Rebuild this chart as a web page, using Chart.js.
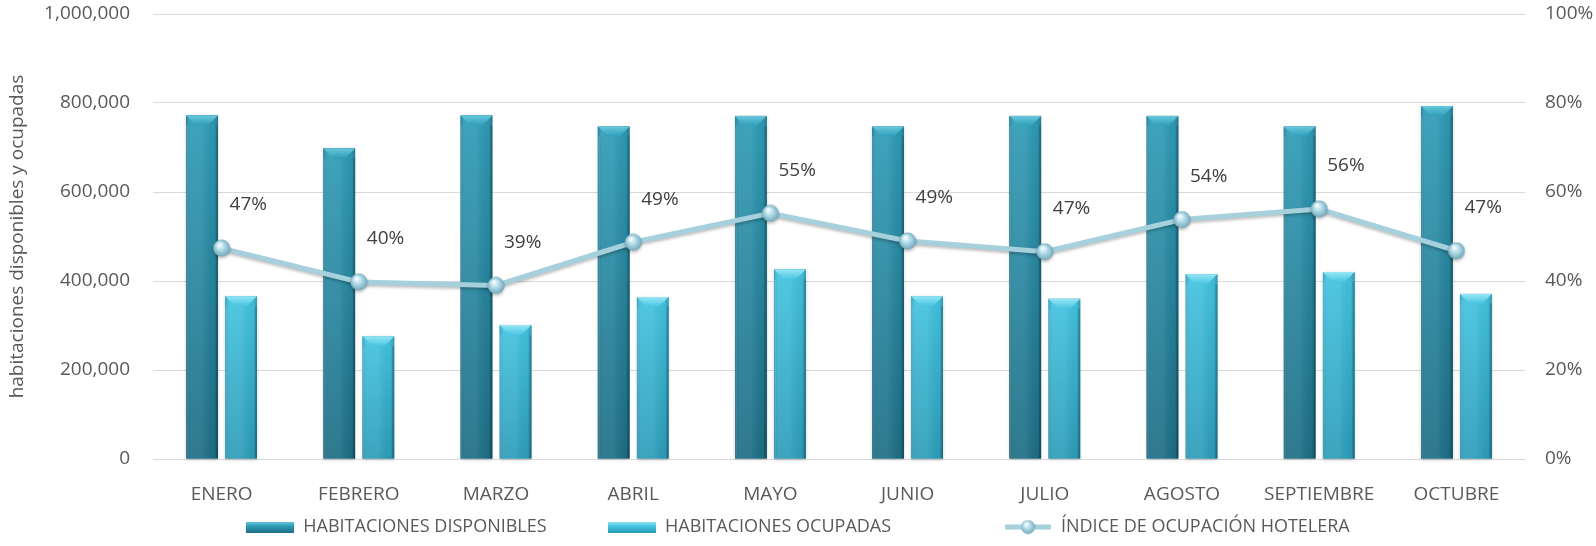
<!DOCTYPE html>
<html>
<head>
<meta charset="utf-8">
<script src="https://cdn.jsdelivr.net/npm/chart.js@4.4.1/dist/chart.umd.min.js"></script>
<style>
  body { margin: 0; background: #fff; }
  #wrap { width: 1596px; height: 546px; position: relative; }
</style>
</head>
<body>
<div id="wrap"><canvas id="ocupacion"></canvas></div>
<script>
// datos
var meses = ['ENERO', 'FEBRERO', 'MARZO', 'ABRIL', 'MAYO', 'JUNIO', 'JULIO', 'AGOSTO', 'SEPTIEMBRE', 'OCTUBRE'];
var disponibles = [772000, 698000, 772000, 747000, 771000, 747000, 771000, 771000, 747000, 793000];
var ocupadas = [366000, 276000, 301000, 364000, 426000, 366000, 360000, 415000, 420000, 371000];
var indice = [0.474, 0.398, 0.39, 0.487, 0.552, 0.49, 0.466, 0.538, 0.562, 0.468];
var ticksIzq = [0, 200000, 400000, 600000, 800000, 1000000];
var ticksDer = [0, 0.2, 0.4, 0.6, 0.8, 1];

var FONT = '"Open Sans", "Noto Sans", sans-serif';
var GRIS = '#595959';

var colores = {
  disp: { top: '#2f9bb6', bottom: '#1e6e85', bevel: '#66c8dd', bevelDark: '#2f9db8' },
  ocup: { top: '#43c3e0', bottom: '#2d9cb8', bevel: '#98e6f5', bevelDark: '#46c4e0' }
};

// esfera para los puntos de la linea
function makeSphere(d) {
  var c = document.createElement('canvas');
  c.width = d; c.height = d;
  var g = c.getContext('2d');
  var r = d / 2;
  var rg = g.createRadialGradient(r * 0.75, r * 0.6, 1, r, r, r);
  rg.addColorStop(0, '#f2fbfe');
  rg.addColorStop(0.45, '#acd8e6');
  rg.addColorStop(0.85, '#80b3c4');
  rg.addColorStop(1, '#6a9aab');
  g.fillStyle = rg;
  g.beginPath(); g.arc(r, r, r - 0.5, 0, Math.PI * 2); g.fill();
  return c;
}

function drawBevelBar(ctx, l, top, w, h, col) {
  var r = l + w;
  var g = ctx.createLinearGradient(0, top, 0, top + h);
  g.addColorStop(0, col.top);
  g.addColorStop(1, col.bottom);
  ctx.fillStyle = g;
  ctx.fillRect(l, top, w, h);
  var hg = ctx.createLinearGradient(l, 0, r, 0);
  hg.addColorStop(0, 'rgba(0,0,0,0.15)');
  hg.addColorStop(0.12, 'rgba(255,255,255,0.08)');
  hg.addColorStop(0.5, 'rgba(255,255,255,0.08)');
  hg.addColorStop(0.88, 'rgba(0,0,0,0.03)');
  hg.addColorStop(1, 'rgba(0,0,0,0.22)');
  ctx.fillStyle = hg;
  ctx.fillRect(l, top, w, h);
  var b = Math.min(10, h / 2, w / 3);
  var s = 2;
  // tapa superior biselada
  var tg = ctx.createLinearGradient(0, top, 0, top + b);
  tg.addColorStop(0, col.bevel);
  tg.addColorStop(1, col.bevelDark);
  ctx.fillStyle = tg;
  ctx.beginPath();
  ctx.moveTo(l, top); ctx.lineTo(r, top); ctx.lineTo(r - b, top + b); ctx.lineTo(l + b, top + b);
  ctx.closePath(); ctx.fill();
  // bordes laterales
  ctx.fillStyle = 'rgba(255,255,255,0.12)';
  ctx.fillRect(l, top + b, s, h - b);
  ctx.fillStyle = 'rgba(0,0,0,0.15)';
  ctx.fillRect(r - s, top + b, s, h - b);
}

function legendBox(col) {
  var c = document.createElement('canvas');
  c.width = 48; c.height = 11;
  var g = c.getContext('2d');
  var vg = g.createLinearGradient(0, 0, 0, 11);
  vg.addColorStop(0, col.bevel);
  vg.addColorStop(0.45, col.top);
  vg.addColorStop(1, col.bottom);
  g.fillStyle = vg;
  g.fillRect(0, 0, 48, 11);
  return c;
}

function legendLine() {
  var c = document.createElement('canvas');
  c.width = 46; c.height = 16;
  var g = c.getContext('2d');
  g.strokeStyle = '#a6d0dc';
  g.lineWidth = 5;
  g.beginPath(); g.moveTo(0, 8); g.lineTo(46, 8); g.stroke();
  g.drawImage(makeSphere(15), 15.5, 0.5);
  return c;
}

var barrasPlugin = {
  id: 'barras',
  afterDatasetDraw: function(chart, args) {
    var meta = args.meta;
    var ctx = chart.ctx;
    if (meta.type === 'line') { ctx.restore(); return; }
    var col = meta.index === 1 ? colores.disp : colores.ocup;
    ctx.save();
    meta.data.forEach(function(bar) {
      var p = bar.getProps(['x', 'y', 'base', 'width'], true);
      ctx.shadowColor = 'rgba(0,0,0,0.2)';
      ctx.shadowBlur = 3;
      ctx.shadowOffsetY = 1;
      ctx.fillStyle = col.bottom;
      ctx.fillRect(p.x - p.width / 2, p.y, p.width, p.base - p.y);
      ctx.shadowColor = 'transparent';
      drawBevelBar(ctx, p.x - p.width / 2, p.y, p.width, p.base - p.y, col);
    });
    ctx.restore();
  },
  beforeDatasetDraw: function(chart, args) {
    if (args.meta.type === 'line') {
      var ctx = chart.ctx;
      ctx.save();
      ctx.shadowColor = 'rgba(0,0,0,0.25)';
      ctx.shadowBlur = 3;
      ctx.shadowOffsetY = 2;
    }
  }
};

var etiquetasPlugin = {
  id: 'etiquetas',
  afterDatasetsDraw: function(chart) {
    var meta = chart.getDatasetMeta(0);
    var ctx = chart.ctx;
    ctx.save();
    ctx.font = '19px ' + FONT;
    ctx.fillStyle = '#404040';
    ctx.textAlign = 'left';
    ctx.textBaseline = 'middle';
    meta.data.forEach(function(pt, i) {
      ctx.fillText(Math.round(indice[i] * 100) + '%', pt.x + 8, pt.y - 43);
    });
    ctx.restore();
  }
};

var esfera = makeSphere(18);

var chartData = {
  labels: meses,
  datasets: [
    {
      type: 'line',
      label: 'ÍNDICE DE OCUPACIÓN HOTELERA',
      data: indice,
      yAxisID: 'y1',
      borderColor: '#a6d0dc',
      backgroundColor: '#a6d0dc',
      borderWidth: 5,
      pointStyle: esfera,
      pointRadius: 9,
      tension: 0,
      order: 0
    },
    {
      type: 'bar',
      label: 'HABITACIONES DISPONIBLES',
      data: disponibles,
      yAxisID: 'y',
      backgroundColor: 'rgba(0,0,0,0)',
      categoryPercentage: 0.57,
      barPercentage: 0.81,
      order: 1
    },
    {
      type: 'bar',
      label: 'HABITACIONES OCUPADAS',
      data: ocupadas,
      yAxisID: 'y',
      backgroundColor: 'rgba(0,0,0,0)',
      categoryPercentage: 0.57,
      barPercentage: 0.81,
      order: 1
    }
  ]
};

var legendImgs = [legendLine(), legendBox(colores.disp), legendBox(colores.ocup)];
// espacio extra a la derecha de cada texto de la leyenda
var legendGap = ['', '           ', '                      '];

new Chart(document.getElementById('ocupacion').getContext('2d'), {
  type: 'bar',
  data: chartData,
  plugins: [barrasPlugin, etiquetasPlugin],
  options: {
    responsive: true,
    maintainAspectRatio: false,
    animation: false,
    layout: { padding: { top: 0, left: 0, right: 0, bottom: 0 } },
    plugins: {
      tooltip: { enabled: false },
      legend: {
        position: 'bottom',
        labels: {
          color: GRIS,
          font: { family: FONT, size: 18 },
          usePointStyle: true,
          pointStyleWidth: 48,
          padding: 10,
          boxHeight: 16,
          generateLabels: function(chart) {
            return [1, 2, 0].map(function(i) {
              return {
                text: chart.data.datasets[i].label + legendGap[i],
                pointStyle: legendImgs[i],
                fontColor: GRIS,
                lineWidth: 0,
                datasetIndex: i
              };
            });
          }
        }
      }
    },
    scales: {
      x: {
        grid: { display: false },
        border: { display: false },
        afterFit: function(s) { s.height = 49; },
        ticks: { color: GRIS, font: { family: FONT, size: 19 }, padding: 16 }
      },
      y: {
        position: 'left',
        min: 0,
        max: 1000000,
        afterBuildTicks: function(s) { s.ticks = ticksIzq.map(function(v) { return { value: v }; }); },
        afterFit: function(s) { s.width = 153; },
        grid: { color: '#d9d9d9', drawTicks: true, tickLength: 21, tickColor: 'rgba(0,0,0,0)' },
        border: { display: false },
        ticks: {
          color: GRIS,
          font: { family: FONT, size: 19 },
          padding: 2,
          callback: function(v) { return v.toLocaleString('en-US'); }
        },
        title: {
          display: true,
          text: 'habitaciones disponibles y ocupadas',
          color: GRIS,
          font: { family: FONT, size: 19 },
          padding: { top: 6, bottom: 0 }
        }
      },
      y1: {
        position: 'right',
        min: 0,
        max: 1,
        afterBuildTicks: function(s) { s.ticks = ticksDer.map(function(v) { return { value: v }; }); },
        afterFit: function(s) { s.width = 71; },
        grid: { display: false, drawTicks: true, tickLength: 18, tickColor: 'rgba(0,0,0,0)' },
        border: { display: false },
        ticks: {
          color: GRIS,
          font: { family: FONT, size: 19 },
          padding: 2,
          callback: function(v) { return Math.round(v * 100) + '%'; }
        }
      }
    }
  }
});
</script>
</body>
</html>
